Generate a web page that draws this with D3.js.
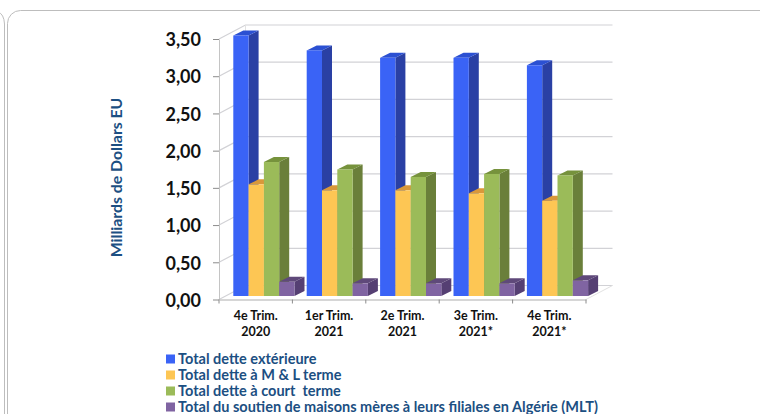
<!DOCTYPE html>
<html>
<head>
<meta charset="utf-8">
<script src="https://cdn.jsdelivr.net/npm/d3@7"></script>
<style>
html, body { margin: 0; padding: 0; background: #fff; overflow: hidden; }
text { font-family: Lato, "Open Sans", sans-serif; font-weight: 700; }
</style>
</head>
<body>
<script>
var WIDTH = 760, HEIGHT = 414;

var quarters = [["4e Trim.", "2020"], ["1er Trim.", "2021"], ["2e Trim.", "2021"], ["3e Trim.", "2021*"], ["4e Trim.", "2021*"]];
var totalDette = [3.5, 3.3, 3.2, 3.2, 3.1];
var detteML = [1.5, 1.42, 1.42, 1.38, 1.28];
var detteCourt = [1.8, 1.7, 1.6, 1.64, 1.62];
var soutien = [0.19, 0.17, 0.17, 0.17, 0.21];
var seriesNames = ["Total dette extérieure", "Total dette à M & L terme", "Total dette à court  terme", "Total du soutien de maisons mères à leurs filiales en Algérie (MLT)"];
var yTicks = [0, 0.5, 1, 1.5, 2, 2.5, 3, 3.5];

var allSeries = [totalDette, detteML, detteCourt, soutien];
var front = ["#3a63f6", "#fdc654", "#9bbb59", "#8064a2"];
var top_ = ["#2b50d2", "#d9983a", "#76923c", "#5f497a"];
var side = ["#2a40a4", "#b9822e", "#6a7f3a", "#553f73"];

var svg = d3.select("body").append("svg")
    .attr("width", WIDTH)
    .attr("height", HEIGHT)
    .style("display", "block");

// frames behind the chart
svg.append("path").attr("d", "M-2,12 Q4,14 4.5,24 L4.5,420")
    .attr("fill", "none").attr("stroke", "#bdbdbd").attr("stroke-width", 1);
svg.append("rect").attr("x", 7.5).attr("y", 10.5).attr("width", 800).attr("height", 460).attr("rx", 13)
    .attr("fill", "#fff").attr("stroke", "#bdbdbd").attr("stroke-width", 1);

var x = d3.scaleBand().domain(d3.range(quarters.length)).range([219, 586]);
var y = d3.scaleLinear().domain([0, 3.5]).range([299.5, 39]);

var DX = 26.5, DY = -14; // depth of the back wall
var BARY = -3.5; // bars stand a little behind the front edge
var BARW = 15.3, PADL = 14.3; // bar width, gap before the first bar
var bdx = 10, bdy = -5; // depth of a bar

// walls and gridlines
svg.selectAll(".grid").data(yTicks).enter().append("path")
    .attr("class", "grid")
    .attr("d", d => "M219," + y(d) + "L" + (219 + DX) + "," + (y(d) + DY) + "L" + (586 + DX) + "," + (y(d) + DY))
    .attr("fill", "none").attr("stroke", "#d2d2d6").attr("stroke-width", 1.2);
svg.append("path")
    .attr("d", "M" + (219 + DX) + "," + (y(0) + DY) + "V" + (y(3.5) + DY))
    .attr("stroke", "#e2e2e2").attr("fill", "none");
svg.append("path")
    .attr("d", "M586," + y(0) + "L" + (586 + DX) + "," + (y(0) + DY))
    .attr("stroke", "#e2e2e2").attr("fill", "none");

// bars, left to right so that each one covers the side of the one before
quarters.forEach((q, i) => {
  allSeries.forEach((s, k) => {
    var x0 = x(i) + PADL + k * BARW, x1 = x0 + BARW;
    var yt = y(s[i]) + BARY, yb = y(0) + BARY;
    var g = svg.append("g").attr("class", "bar");
    g.append("path")
      .attr("d", "M" + x1 + "," + yt + "L" + (x1 + bdx) + "," + (yt + bdy) + "V" + (yb + bdy) + "L" + x1 + "," + yb + "Z")
      .attr("fill", side[k]);
    g.append("path")
      .attr("d", "M" + x0 + "," + yt + "L" + (x0 + bdx) + "," + (yt + bdy) + "H" + (x1 + bdx) + "L" + x1 + "," + yt + "Z")
      .attr("fill", top_[k]);
    g.append("rect")
      .attr("x", x0).attr("y", yt)
      .attr("width", BARW).attr("height", yb - yt)
      .attr("fill", front[k]);
  });
});

// y axis
var fr = d3.formatLocale({decimal: ",", thousands: " ", grouping: [3], currency: ["", ""]});
var yAxis = svg.append("g")
    .attr("transform", "translate(219,0)")
    .call(d3.axisLeft(y).tickValues(yTicks).tickFormat(fr.format(".2f")).tickSize(6).tickSizeOuter(0).tickPadding(12));
yAxis.selectAll("text").attr("font-size", 18).attr("fill", "#111").attr("y", 1).style("font-family", "Lato, sans-serif");
yAxis.selectAll("line").attr("stroke", "#8c8c8c");
yAxis.select(".domain").attr("stroke", "#c4c4c4");

// x axis, the ticks sit between the groups
var xAxis = svg.append("g")
    .attr("transform", "translate(0," + y(0) + ")")
    .call(d3.axisBottom(x).tickSize(0).tickPadding(0).tickFormat(""));
xAxis.select(".domain").attr("stroke", "#c8c8c8").attr("stroke-width", 1.5);
xAxis.selectAll(".edge").data(d3.range(quarters.length + 1)).enter().append("line")
    .attr("class", "edge")
    .attr("x1", d => 219 + d * x.step()).attr("x2", d => 219 + d * x.step())
    .attr("y1", 0).attr("y2", 4)
    .attr("stroke", "#8c8c8c");
xAxis.selectAll(".tick text").each(function(d) {
  var t = d3.select(this).attr("font-size", 12.5).attr("fill", "#111").attr("y", 0).attr("dy", null)
      .style("font-family", "Lato, sans-serif");
  quarters[d].forEach((line, j) => {
    t.append("tspan").attr("x", 0).attr("y", 20 + j * 16).text(line);
  });
});

// y title
svg.append("text")
    .attr("transform", "translate(122,177.5) rotate(-90)")
    .attr("text-anchor", "middle")
    .attr("font-size", 15.8)
    .attr("fill", "#1c4f82")
    .text("Milliards de Dollars EU");

// legend
var leg = svg.selectAll(".leg").data(seriesNames).enter().append("g")
    .attr("class", "leg")
    .attr("transform", (d, i) => "translate(166," + (354.5 + i * 16) + ")");
leg.append("rect").attr("width", 9).attr("height", 9).attr("fill", (d, i) => front[i]);
leg.append("text")
    .attr("x", 12).attr("y", 9)
    .attr("font-size", 14.5)
    .attr("fill", "#1c4f82")
    .style("white-space", "pre")
    .text(d => d);
</script>
</body>
</html>
